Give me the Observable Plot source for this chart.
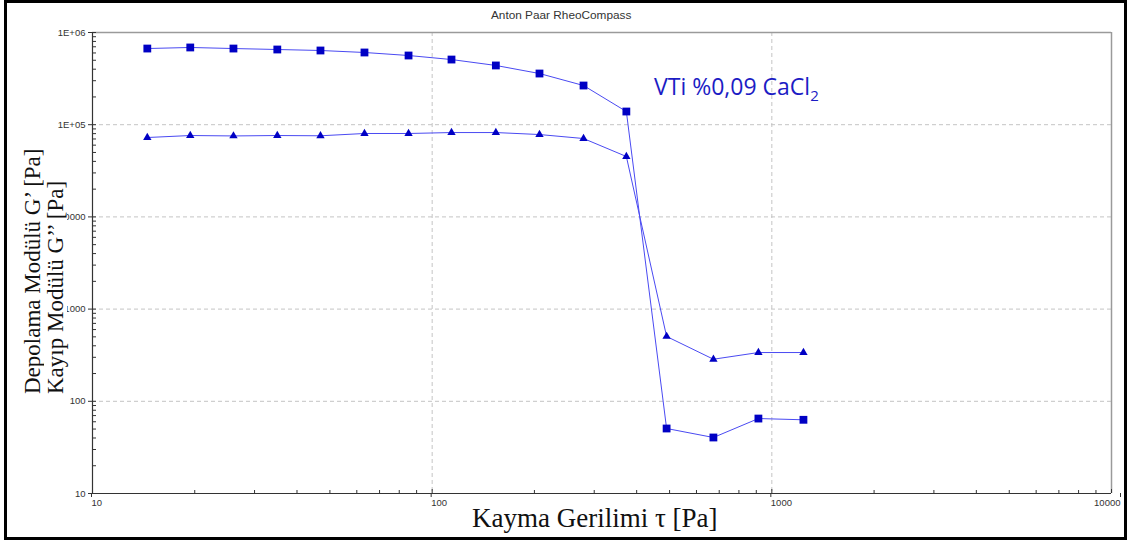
<!DOCTYPE html>
<html>
<head>
<meta charset="utf-8">
<script src="https://cdn.jsdelivr.net/npm/d3@7"></script>
<script src="https://cdn.jsdelivr.net/npm/@observablehq/plot@0.6"></script>
<style>
  html, body { margin: 0; padding: 0; background: #fff; }
  #wrap { position: relative; width: 1128px; height: 541px; overflow: hidden; background: #fff; }
  #wrap svg { position: absolute; left: 0; top: 0; }
  .ov { position: absolute; white-space: pre; }
  #title { left: 491px; top: 8px; font: 11.8px "Liberation Sans", Arial, sans-serif; color: #333; }
  #note { left: 654px; top: 71px; font: 23px "Open Sans", sans-serif; color: #1c1cc4; line-height: 30px; }
  #note sub { font-size: 15px; vertical-align: -6px; line-height: 0; }
  #xtitle { left: 472px; top: 502px; font: 27px "Liberation Serif", "Times New Roman", serif; color: #111; line-height: 32px; }
  .ytitle { top: 394px; font: 23px "Liberation Serif", "Times New Roman", serif; color: #111; line-height: 23px;
            transform-origin: left top; transform: rotate(-90deg); background: #fff; padding-right: 2px; }
  #y1 { left: 21px; }
  #y2 { left: 44px; }
  #border { position: absolute; left: 4px; top: 0px; width: 1117px; height: 534px; border: 3px solid #000; pointer-events: none; }
</style>
</head>
<body>
<div id="wrap"></div>
<script>
// ---- data ----
const shearStress    = [14.5, 19.4, 26.0, 35.0, 46.9, 63.2, 85.2, 114, 154, 207, 279, 373, 490, 673, 913, 1239];
const storageModulus = [670000, 688000, 670000, 654000, 638000, 607000, 563000, 509000, 439000, 359000, 266000, 139000, 50.7, 40.5, 65, 63];
const lossModulus    = [72600, 76300, 75500, 76300, 75800, 80300, 80300, 82200, 82200, 78200, 70800, 45200, 505, 286, 338, 338];

const xTickValues = [10, 100, 1000, 10000];
const xTickLabels = ["10", "100", "1000", "10000"];
const yTickValues = [10, 100, 1000, 10000, 100000, 1000000];
const yTickLabels = ["10", "100", "1000", "10000", "1E+05", "1E+06"];

// ---- build tables ----
const gPrime  = shearStress.map((x, i) => ({x, y: storageModulus[i]}));
const gDouble = shearStress.map((x, i) => ({x, y: lossModulus[i]}));
const xLabel = new Map(xTickValues.map((v, i) => [v, xTickLabels[i]]));
const yLabel = new Map(yTickValues.map((v, i) => [v, yTickLabels[i]]));
const minorOf = (decades) => decades.slice(0, -1).flatMap(d => [2,3,4,5,6,7,8,9].map(k => k * d));
const xMinor = minorOf(xTickValues);
const yMinor = minorOf(yTickValues);

const W = 1128, H = 541, mL = 92, mR = 17, mT = 32, mB = 48;
const fw = W - mL - mR, fh = H - mT - mB;

const lineColor = "#4a4af2";
const markColor = "#0000c4";
const gridStyle = {stroke: "#c4c4c4", strokeDasharray: "4,3", strokeWidth: 1};
const axisText = {fontSize: 9.5, fill: "#333", stroke: "#333", label: null};

const chart = Plot.plot({
  width: W, height: H,
  marginLeft: mL, marginRight: mR, marginTop: mT, marginBottom: mB,
  x: {type: "log", domain: [10, 10000]},
  y: {type: "log", domain: [10, 1e6]},
  style: {background: "transparent", fontFamily: "Liberation Sans, Arial, sans-serif"},
  marks: [
    // grid
    Plot.ruleY(yTickValues.slice(1, -1), {...gridStyle}),
    Plot.ruleX(xTickValues.slice(1, -1), {...gridStyle}),
    // frame top/right (gray)
    Plot.ruleY([1e6], {stroke: "#9a9a9a", strokeWidth: 1.5}),
    Plot.ruleX([10000], {stroke: "#9a9a9a", strokeWidth: 1.5}),
    // minor ticks (inside)
    Plot.tickX(xMinor, {x: d => d, insetTop: fh - 3, stroke: "#333"}),
    Plot.tickY(yMinor, {y: d => d, insetRight: fw - 4, stroke: "#333"}),
    // major ticks inside
    Plot.tickX(xTickValues, {x: d => d, insetTop: fh - 4, stroke: "#333"}),
    Plot.tickY(yTickValues, {y: d => d, insetRight: fw - 4, stroke: "#333"}),
    // axes
    Plot.axisX(xTickValues.slice(0, -1), {tickSize: 4, tickPadding: 2, tickFormat: d => xLabel.get(d),
      textAnchor: "start", dx: -1, ...axisText}),
    Plot.axisX(xTickValues.slice(-1), {tickSize: 4, tickPadding: 2, tickFormat: d => xLabel.get(d),
      textAnchor: "end", dx: 9, ...axisText}),
    Plot.axisY(yTickValues, {tickSize: 4, tickPadding: 3, tickFormat: d => yLabel.get(d), ...axisText}),
    Plot.ruleX([10], {stroke: "#333", strokeWidth: 1.2}),
    Plot.ruleY([10], {stroke: "#333", strokeWidth: 1.2}),
    // series
    Plot.line(gPrime,  {x: "x", y: "y", stroke: lineColor, strokeWidth: 1}),
    Plot.line(gDouble, {x: "x", y: "y", stroke: lineColor, strokeWidth: 1}),
    Plot.dot(gPrime,  {x: "x", y: "y", symbol: "square", r: 4.4, fill: markColor, stroke: "none"}),
    Plot.dot(gDouble, {x: "x", y: "y", symbol: "triangle", r: 3.1, fill: markColor, stroke: "none"})
  ]
});

const wrap = document.getElementById("wrap");
wrap.appendChild(chart);

function addDiv(id, cls, html) {
  const d = document.createElement("div");
  if (id) d.id = id;
  d.className = cls;
  d.innerHTML = html;
  wrap.appendChild(d);
  return d;
}
addDiv("title", "ov", "Anton Paar RheoCompass");
addDiv("note", "ov", "VTi %0,09 CaCl<sub>2</sub>");
addDiv("xtitle", "ov", "Kayma Gerilimi τ [Pa]");
addDiv("y1", "ov ytitle", "Depolama Modülü G’ [Pa]");
addDiv("y2", "ov ytitle", "Kayıp Modülü G’’ [Pa]");
addDiv("border", "", "");
</script>
</body>
</html>
